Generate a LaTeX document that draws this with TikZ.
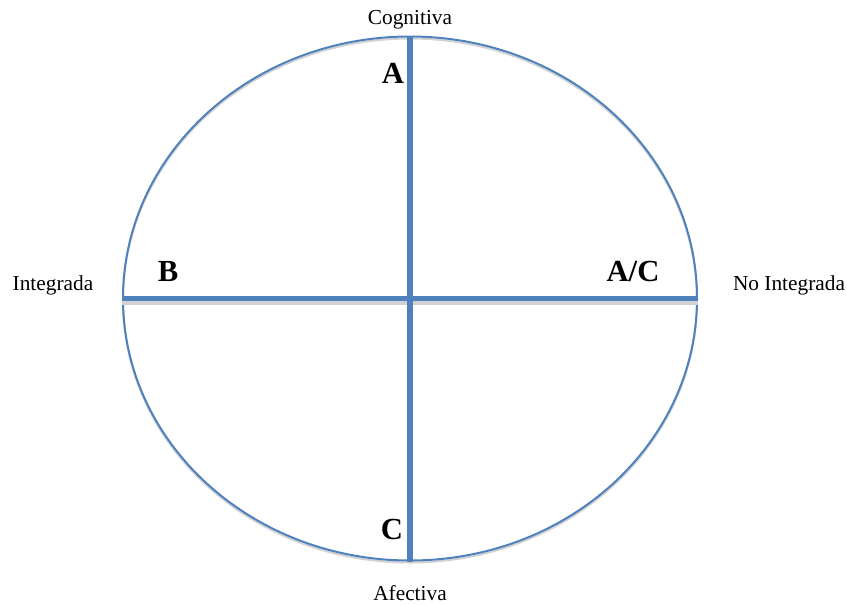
\documentclass[tikz,border=0pt]{standalone}
\usepackage{fontspec}
\setmainfont{Liberation Serif}
\usetikzlibrary{shapes.geometric}

\definecolor{axisblue}{RGB}{79,129,189}

\begin{document}
\begin{tikzpicture}[x=0.75pt, y=-0.75pt]
    \useasboundingbox (0,0) rectangle (847,604);
    % shadow under the ring and the horizontal axis
    \node[ellipse, draw=gray!35, line width=1.5pt, minimum width=430.5pt, minimum height=393pt, inner sep=0pt] (ringshadow) at (410,300.5) {};
    \node[ellipse, draw=axisblue, line width=1.5pt, minimum width=430.5pt, minimum height=393pt, inner sep=0pt] (ring) at (410,298.5) {};
    \draw[gray!35, line width=3pt] ([yshift=-3.5pt]ring.west) -- ([yshift=-3.5pt]ring.east);

    \draw[axisblue, line width=4pt] (ring.west) -- (ring.east);
    \draw[axisblue, line width=4.5pt] (ring.north) -- (ring.south);

    \node[font=\fontsize{16}{18}\selectfont] (cog) at (410,20) {Cognitiva};
    \node[font=\fontsize{16}{18}\selectfont] (afe) at (410,593) {Afectiva};
    \node[font=\fontsize{16}{18}\selectfont] (integ) at (53,285) {Integrada};
    \node[font=\fontsize{16}{18}\selectfont] (nointeg) at (789,285) {No Integrada};

    \node[font=\fontsize{23}{26}\selectfont\bfseries] (la) at (393,73) {A};
    \node[font=\fontsize{23}{26}\selectfont\bfseries] (lb) at (168,271) {B};
    \node[font=\fontsize{23}{26}\selectfont\bfseries] (lac) at (633,271) {A/C};
    \node[font=\fontsize{23}{26}\selectfont\bfseries] (lc) at (392,529) {C};
  \end{tikzpicture}
\end{document}
